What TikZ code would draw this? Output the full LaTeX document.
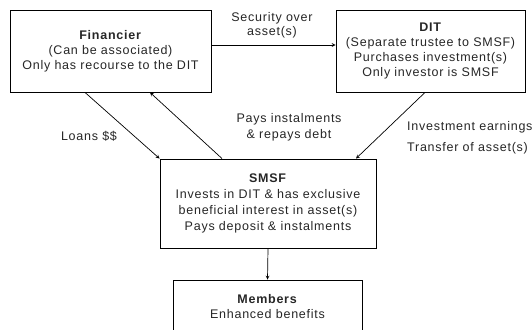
\documentclass[tikz,border=0pt]{standalone}
\usepackage{fontspec}
\setmainfont{Liberation Sans}
\usepackage{tikz}

\tikzset{
  entity/.style={draw, line width=0.9pt, align=center, inner sep=0pt, text=black!85, font=\fontsize{12.5}{15}\selectfont\addfontfeatures{LetterSpace=6}},
  flow/.style={-stealth, line width=0.7pt},
  lbl/.style={align=center, inner sep=0pt, text=black!85, font=\fontsize{12.5}{14}\selectfont\addfontfeatures{LetterSpace=6}}
}

\begin{document}
\begin{tikzpicture}[x=1pt,y=1pt]
          \useasboundingbox (0,0) rectangle (532,329);
          \node[entity, minimum width=201pt, minimum height=82pt] (fin) at (110.5,278) {\textbf{Financier}\\(Can be associated)\\Only has recourse to the DIT};
          \node[entity, minimum width=189pt, minimum height=82pt] (dit) at (430.5,278) {\textbf{DIT}\\(Separate trustee to SMSF)\\Purchases investment(s)\\Only investor is SMSF};
          \node[entity, minimum width=216pt, minimum height=89pt, font=\fontsize{12.5}{16}\selectfont\addfontfeatures{LetterSpace=6}] (smsf) at (268,125.5) {\textbf{SMSF}\\Invests in DIT \& has exclusive\\beneficial interest in asset(s)\\Pays deposit \& instalments};
          \node[entity, minimum width=189pt, minimum height=54pt] (mem) at (267.5,22) {\textbf{Members}\\Enhanced benefits};
          \node[lbl] (secur) at (272,304) {Security over\\asset(s)};
          \node[lbl] (loans) at (89,193) {Loans \$\$};
          \node[lbl] (pays) at (289,201.5) {Pays instalments\\[2pt]\& repays debt};
          \node[lbl, align=left, anchor=west] (earn) at (407,191.5) {Investment earnings\\[7pt]Transfer of asset(s)};
          \draw[flow] ([yshift=6pt]fin.east) -- ([yshift=6pt]dit.west);
          \draw[flow] ([xshift=-25.5pt]fin.south) -- (smsf.north west);
          \draw[flow] ([xshift=-46pt]smsf.north) -- ([xshift=39.5pt]fin.south);
          \draw[flow] ([xshift=-5.5pt]dit.south) -- ([xshift=88pt]smsf.north);
          \draw[flow] (smsf.south) -- (mem.north);
        \end{tikzpicture}
\end{document}
